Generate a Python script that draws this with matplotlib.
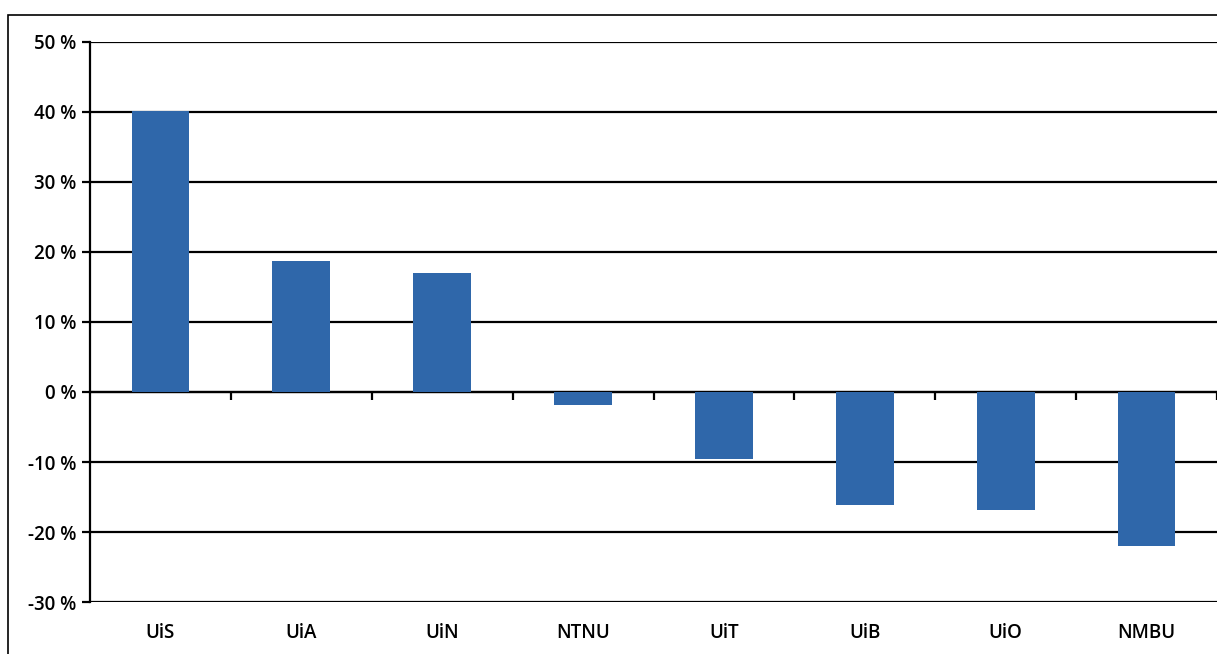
import numpy as np
import matplotlib; matplotlib.use("Agg"); import matplotlib.pyplot as plt
from matplotlib.patches import Rectangle

# universities and relative change (%)
schools = ["UiS", "UiA", "UiN", "NTNU", "UiT", "UiB", "UiO", "NMBU"]
change = [40.2, 18.7, 17.0, -1.8, -9.5, -16.2, -16.9, -22.0]
yticks = [-30, -20, -10, 0, 10, 20, 30, 40, 50]

plt.rcParams["font.family"] = ["Open Sans", "DejaVu Sans"]
fig = plt.figure(figsize=(12.17, 6.54), dpi=100)
ax = fig.add_axes([0.074, 0.0795, 0.926, 0.8563])

x = np.arange(len(schools))
ax.bar(x, change, width=0.41, color="#2f67aa", zorder=3)

ax.set_xlim(-0.5, len(schools) - 0.5)
ax.set_ylim(-30, 50)
ax.set_yticks(yticks)
ax.set_yticklabels([f"{v} %" for v in yticks], fontsize=13.5, fontweight="semibold")
ax.yaxis.grid(True, color="black", lw=1.6, zorder=1)
ax.tick_params(axis="y", length=6, width=1.6, pad=4)

ax.set_xticks(x)
ax.set_xticklabels(schools, fontsize=13.5, fontweight="semibold")
ax.tick_params(axis="x", length=0, pad=15)

for s in ["top", "right", "bottom"]:
    ax.spines[s].set_visible(False)
ax.spines["left"].set_linewidth(1.6)

# zero line with category ticks
zero = ax.secondary_xaxis(30 / 80)
zero.set_xticks(np.arange(len(schools)) + 0.5)
zero.set_xticklabels([])
zero.tick_params(axis="x", direction="out", length=6, width=1.6)
zero.spines["bottom"].set_linewidth(1.6)

# scanned page frame
fig.patches.append(Rectangle((8 / 1217, -0.1), 1.2, 1 - 15 / 654 + 0.1, transform=fig.transFigure,
                             fill=False, ec="black", lw=1.2))

fig.savefig("out.png", dpi=100)
